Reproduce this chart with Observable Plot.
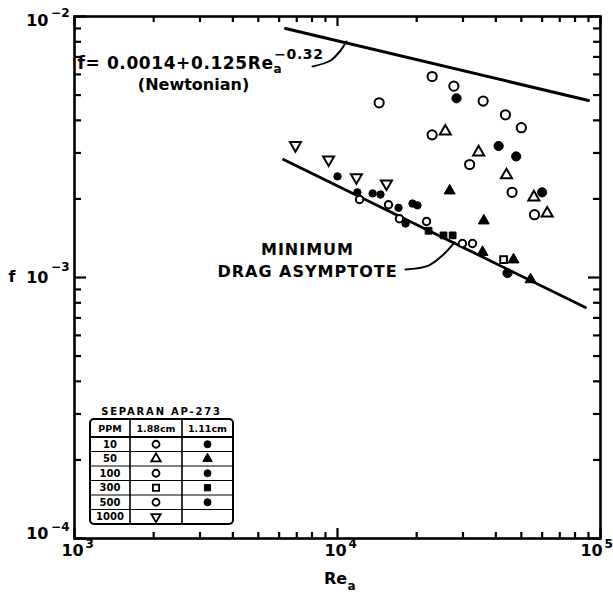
<!DOCTYPE html>
<html><head><meta charset="utf-8">
<script src="https://cdn.jsdelivr.net/npm/d3@7"></script>
<script src="https://cdn.jsdelivr.net/npm/@observablehq/plot@0.6"></script>
<style>
body{margin:0;background:#fff}
.mda text{letter-spacing:1px}
.eq text{letter-spacing:0.6px}
</style>
</head><body><div id="chart"></div>
<script>
// ---- tick values / labels ----
const xMajor = [1e3, 1e4, 1e5];
const xMinor = [2e3,3e3,4e3,5e3,6e3,7e3,8e3,9e3,2e4,3e4,4e4,5e4,6e4,7e4,8e4,9e4];
const yMajor = [1e-4, 1e-3, 1e-2];
const yMinor = [2e-4,3e-4,4e-4,5e-4,6e-4,7e-4,8e-4,9e-4,2e-3,3e-3,4e-3,5e-3,6e-3,7e-3,8e-3,9e-3];
const xExponents = ["3", "4", "5"];
const yExponents = ["\u22124", "\u22123", "\u22122"];

// ---- data series [Re_a, f] ----
const ppm10_188  = [[22900,0.00589],[27700,0.00541],[35800,0.00474],[43500,0.00420],[50000,0.00375],[14400,0.00467]];
const ppm100_188 = [[22900,0.00352],[31800,0.00271],[46100,0.00212],[56100,0.00174]];
const ppm10_111  = [[28350,0.00486],[41000,0.00319],[47800,0.00291],[44300,0.00104]];
const ppm100_111 = [[60000,0.00212]];
const ppm50_188  = [[25700,0.00363],[34400,0.00302],[43900,0.00247],[55800,0.00203],[62700,0.00176]];
const ppm50_111  = [[26700,0.00215],[36000,0.00165],[35600,0.00125],[46700,0.00117],[54200,0.000982]];
const ppm300_188 = [[42800,0.00117]];
const ppm300_111 = [[22200,0.00151],[25300,0.00145],[27400,0.00145]];
const ppm500_188 = [[12130,0.00199],[15630,0.00190],[17200,0.00168],[21800,0.00164],[29850,0.00135],[32600,0.00135]];
const ppm500_111 = [[10000,0.00244],[11900,0.00212],[13600,0.00210],[14570,0.00208],[17060,0.00185],[19280,0.00192],[20140,0.00189],[18140,0.00161]];
const ppm1000_188 = [[6920,0.00321],[9250,0.00283],[11800,0.00242],[15350,0.00229]];

// ---- lines ----
const newtonian = [[6344,0.008995],[90040,0.004768]];
const minDrag   = [[6232,0.002832],[87700,0.000768]];
const eqLeader  = [[8035,0.006432],[9406,0.006783],[10266,0.007407],[10820,0.008022]];
const mdaLeader = [[18140,0.001073],[22180,0.001111],[25290,0.001225],[27860,0.001362]];

// ---- text ----
const eqMain = "f= 0.0014+0.125Re";
const eqSub = "a";
const eqSup = "\u22120.32";
const newtonianLabel = "(Newtonian)";
const mdaLabel = "MINIMUM\nDRAG ASYMPTOTE";
const xLabel = "Re";
const xLabelSub = "a";
const yLabel = "f";
const legendTitle = "SEPARAN AP-273";
const legendHeaders = ["PPM", "1.88cm", "1.11cm"];
const legendPPM = ["10", "50", "100", "300", "500", "1000"];

const series = [
  {ppm:"10", tube:"1.88cm", pts: ppm10_188},
  {ppm:"100", tube:"1.88cm", pts: ppm100_188},
  {ppm:"10", tube:"1.11cm", pts: ppm10_111},
  {ppm:"100", tube:"1.11cm", pts: ppm100_111},
  {ppm:"50", tube:"1.88cm", pts: ppm50_188},
  {ppm:"50", tube:"1.11cm", pts: ppm50_111},
  {ppm:"300", tube:"1.88cm", pts: ppm300_188},
  {ppm:"300", tube:"1.11cm", pts: ppm300_111},
  {ppm:"500", tube:"1.88cm", pts: ppm500_188},
  {ppm:"500", tube:"1.11cm", pts: ppm500_111},
  {ppm:"1000", tube:"1.88cm", pts: ppm1000_188}
];

const triangleDown = {
  draw(context, size) {
    const y = -Math.sqrt(size / (Math.sqrt(3) * 3));
    context.moveTo(0, -2 * y);
    context.lineTo(-Math.sqrt(3) * y, y);
    context.lineTo(Math.sqrt(3) * y, y);
    context.closePath();
  }
};
const symbolOf = {"10": d3.symbolCircle, "50": d3.symbolTriangle, "100": d3.symbolCircle, "300": d3.symbolSquare, "500": d3.symbolCircle, "1000": triangleDown};
const radiusOf = {"10": 4.6, "50": 4.1, "100": 4.6, "300": 3.8, "500": 3.7, "1000": 4.1};

const FONT = "'DejaVu Sans', sans-serif";
const xs = d => d[0], ys = d => d[1];

const W = 613, H = 601, mL = 74, mR = 13, mT = 16, mB = 63;
const innerW = W - mL - mR, innerH = H - mT - mB;

const marks = [];
marks.push(Plot.frame({strokeWidth: 2.6, stroke: "black"}));
// inward ticks on all four sides
for (const [len, ticks] of [[10, xMajor], [6, xMinor]]) {
  marks.push(Plot.tickX(ticks, {x: d => d, insetTop: innerH - len, stroke: "black", strokeWidth: 2.2}));
  marks.push(Plot.tickX(ticks, {x: d => d, insetBottom: innerH - len, stroke: "black", strokeWidth: 2.2}));
}
for (const [len, ticks] of [[12, yMajor], [7, yMinor]]) {
  marks.push(Plot.tickY(ticks, {y: d => d, insetRight: innerW - len, stroke: "black", strokeWidth: 2.2}));
  marks.push(Plot.tickY(ticks, {y: d => d, insetLeft: innerW - len, stroke: "black", strokeWidth: 2.2}));
}

// tick labels
xMajor.forEach((v, i) => {
  const base = i === 2 ? -9 : -2;
  marks.push(Plot.text([v], {x: d => d, frameAnchor: "bottom", text: () => "10", dx: base, dy: 17, fontSize: 16, fontWeight: "bold"}));
  marks.push(Plot.text([v], {x: d => d, frameAnchor: "bottom", text: () => xExponents[i], dx: base + 13, dy: 9, fontSize: 12, fontWeight: "bold", textAnchor: "start"}));
});
const yBaseDy = [-5, 0, 4], yExpDy = [-11, -10, -3];
yMajor.forEach((v, i) => {
  marks.push(Plot.text([v], {y: d => d, frameAnchor: "left", text: () => "10", dx: -26, dy: yBaseDy[i], fontSize: 16, fontWeight: "bold", textAnchor: "end"}));
  marks.push(Plot.text([v], {y: d => d, frameAnchor: "left", text: () => yExponents[i], dx: -5, dy: yExpDy[i], fontSize: 12, fontWeight: "bold", textAnchor: "end"}));
});
marks.push(Plot.text([1e-3], {y: d => d, frameAnchor: "left", text: () => yLabel, dx: -66, dy: -1, fontSize: 16, fontWeight: "bold", textAnchor: "start"}));
marks.push(Plot.text([1e4], {x: d => d, frameAnchor: "bottom", text: () => xLabel, dx: -2, dy: 45, fontSize: 16, fontWeight: "bold"}));
marks.push(Plot.text([1e4], {x: d => d, frameAnchor: "bottom", text: () => xLabelSub, dx: 10, dy: 51, fontSize: 12, fontWeight: "bold", textAnchor: "start"}));

// lines
marks.push(Plot.line(newtonian, {x: xs, y: ys, strokeWidth: 3}));
marks.push(Plot.line(minDrag, {x: xs, y: ys, strokeWidth: 2.8}));
marks.push(Plot.line(eqLeader, {x: xs, y: ys, strokeWidth: 2, curve: "catmull-rom"}));
marks.push(Plot.line(mdaLeader, {x: xs, y: ys, strokeWidth: 2, curve: "catmull-rom"}));

// points
for (const s of series) {
  const filled = s.tube === "1.11cm";
  marks.push(Plot.dot(s.pts, {x: xs, y: ys, symbol: symbolOf[s.ppm], r: radiusOf[s.ppm],
    fill: filled ? "black" : "white", stroke: "black", strokeWidth: filled ? 1 : 2}));
}

// annotations
marks.push(Plot.text([[1027, 0.00663]], {x: xs, y: ys, text: () => eqMain, textAnchor: "start", fontSize: 17, fontWeight: "bold", className: "eq"}));
marks.push(Plot.text([[2835, 0.00549]], {x: xs, y: ys, text: () => newtonianLabel, fontSize: 16, fontWeight: "bold"}));
marks.push(Plot.text([[7690, 0.001177]], {x: xs, y: ys, text: () => mdaLabel, fontSize: 16, fontWeight: "bold", lineHeight: 1.38, className: "mda"}));

const chart = Plot.plot({
  width: W, height: H,
  marginLeft: mL, marginRight: mR, marginTop: mT, marginBottom: mB,
  style: {fontFamily: FONT, background: "white", color: "black"},
  x: {type: "log", domain: [1e3, 1e5], axis: null},
  y: {type: "log", domain: [1e-4, 1e-2], axis: null},
  marks
});
document.getElementById("chart").appendChild(chart);
const svg = d3.select(chart);

// equation sub/superscripts
const eqText = svg.select(".eq text");
eqText.append("tspan").attr("dy", 4).attr("font-size", 12).text(eqSub);
eqText.append("tspan").attr("dx", -8).attr("dy", -14).attr("font-size", 14).text(eqSup);

// legend table
const lg = svg.append("g").attr("font-family", FONT).attr("font-weight", "bold").attr("fill", "black");
const L = {x0: 90, x1: 233, top: 419, head: 437, rowH: 14.5, c1: 130, c2: 182};
const tblBottom = L.head + L.rowH * legendPPM.length;
lg.append("text").attr("x", (L.x0 + L.x1) / 2).attr("y", 415).attr("text-anchor", "middle")
  .attr("font-size", 10).attr("letter-spacing", 1.8).text(legendTitle);
lg.append("rect").attr("x", L.x0).attr("y", L.top).attr("width", L.x1 - L.x0).attr("height", tblBottom - L.top)
  .attr("rx", 4).attr("fill", "white").attr("stroke", "black").attr("stroke-width", 2);
lg.append("line").attr("x1", L.x0).attr("x2", L.x1).attr("y1", L.head).attr("y2", L.head).attr("stroke", "black").attr("stroke-width", 2);
for (const cx of [L.c1, L.c2]) lg.append("line").attr("x1", cx).attr("x2", cx).attr("y1", L.top).attr("y2", tblBottom).attr("stroke", "black").attr("stroke-width", 1.6);
const colC = [(L.x0 + L.c1) / 2, (L.c1 + L.c2) / 2, (L.c2 + L.x1) / 2];
legendHeaders.forEach((h, i) => lg.append("text").attr("x", colC[i]).attr("y", (L.top + L.head) / 2 + 3.5)
  .attr("text-anchor", "middle").attr("font-size", 9.5).text(h));
legendPPM.forEach((p, i) => {
  const y0 = L.head + i * L.rowH, cy = y0 + L.rowH / 2;
  if (i > 0) lg.append("line").attr("x1", L.x0).attr("x2", L.x1).attr("y1", y0).attr("y2", y0).attr("stroke", "black").attr("stroke-width", 1.2);
  lg.append("text").attr("x", colC[0]).attr("y", cy + 3.5).attr("text-anchor", "middle").attr("font-size", 10).text(p);
  const sym = d3.symbol().type(symbolOf[p]).size(Math.PI * 3.5 * 3.5);
  lg.append("path").attr("d", sym()).attr("transform", `translate(${colC[1]},${cy})`)
    .attr("fill", "white").attr("stroke", "black").attr("stroke-width", 1.8);
  if (p !== "1000") lg.append("path").attr("d", sym()).attr("transform", `translate(${colC[2]},${cy})`)
    .attr("fill", "black").attr("stroke", "black").attr("stroke-width", 1);
});
</script>
</body></html>
